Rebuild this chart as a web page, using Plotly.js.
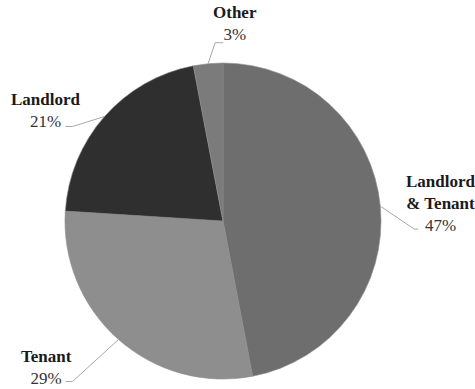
<!DOCTYPE html>
<html>
<head>
<meta charset="utf-8">
<script src="https://cdn.plot.ly/plotly-3.0.1.min.js"></script>
<style>
  html, body { margin: 0; padding: 0; background: #ffffff; }
  #chart { width: 475px; height: 389px; }
</style>
</head>
<body>
<div id="chart"></div>
<script>
// Share of responsibility, clockwise from 12 o'clock
const categories = ['Landlord<br>& Tenant', 'Tenant', 'Landlord', 'Other'];
const shares = [47, 29, 21, 3];
const sliceColors = ['#6e6e6e', '#8e8e8e', '#2f2f2f', '#7b7b7b'];

// Label placement for each slice: leader-line elbow and text offset (px from the slice's edge point)
const labelStyle = [
  { elbow: [34, 23], tail: 4,  text: [61, -3] },
  { elbow: [-46, 42], tail: -7, text: [-72, 28] },
  { elbow: [-32, 10], tail: -7, text: [-58, -6] },
  { elbow: [7, -21],  tail: 8,  text: [27, -40] }
];

const W = 475, H = 389;
const cx = 223, cy = 221, R = 158;   // pie centre and radius in pixels

const domainX = [(cx - R) / W, (cx + R) / W];
const domainY = [(H - cy - R) / H, (H - cy + R) / H];

const serif = '"Liberation Serif", "DejaVu Serif", "Times New Roman", serif';

const total = shares.reduce((a, b) => a + b, 0);
const shapes = [];
const annotations = [];
let acc = 0;
shares.forEach((v, i) => {
  const mid = (acc + v / 2) / total * 2 * Math.PI;   // clockwise from top
  acc += v;
  const ex = cx + R * Math.sin(mid);
  const ey = cy - R * Math.cos(mid);
  const st = labelStyle[i];
  const bx = ex + st.elbow[0], by = ey + st.elbow[1];
  const tx = bx + st.tail;
  const px = x => x / W, py = y => 1 - y / H;
  shapes.push({
    type: 'path', xref: 'paper', yref: 'paper',
    path: `M ${px(ex)} ${py(ey)} L ${px(bx)} ${py(by)} L ${px(tx)} ${py(by)}`,
    line: { color: '#a8a8a8', width: 1 }
  });
  const pct = Math.round(v / total * 100) + '%';
  annotations.push({
    xref: 'paper', yref: 'paper',
    x: px(ex + st.text[0]), y: py(ey + st.text[1]),
    xanchor: 'center', yanchor: 'middle',
    showarrow: false, align: 'center',
    text: `<b>${categories[i]}</b><br><span style="color:#333333">${pct}</span>`,
    font: { family: serif, size: 17, color: '#1a1a1a' }
  });
});

const data = [{
  type: 'pie',
  labels: categories,
  values: shares,
  sort: false,
  direction: 'clockwise',
  rotation: 0,
  textinfo: 'none',
  hoverinfo: 'label+percent',
  domain: { x: domainX, y: domainY },
  marker: { colors: sliceColors, line: { color: '#8c8c8c', width: 0.6 } },
  showlegend: false
}];

const layout = {
  width: W, height: H,
  margin: { l: 0, r: 0, t: 0, b: 0 },
  paper_bgcolor: '#ffffff',
  font: { family: serif },
  showlegend: false,
  shapes: shapes,
  annotations: annotations
};

Plotly.newPlot('chart', data, layout, { displayModeBar: false, staticPlot: true });
</script>
</body>
</html>
